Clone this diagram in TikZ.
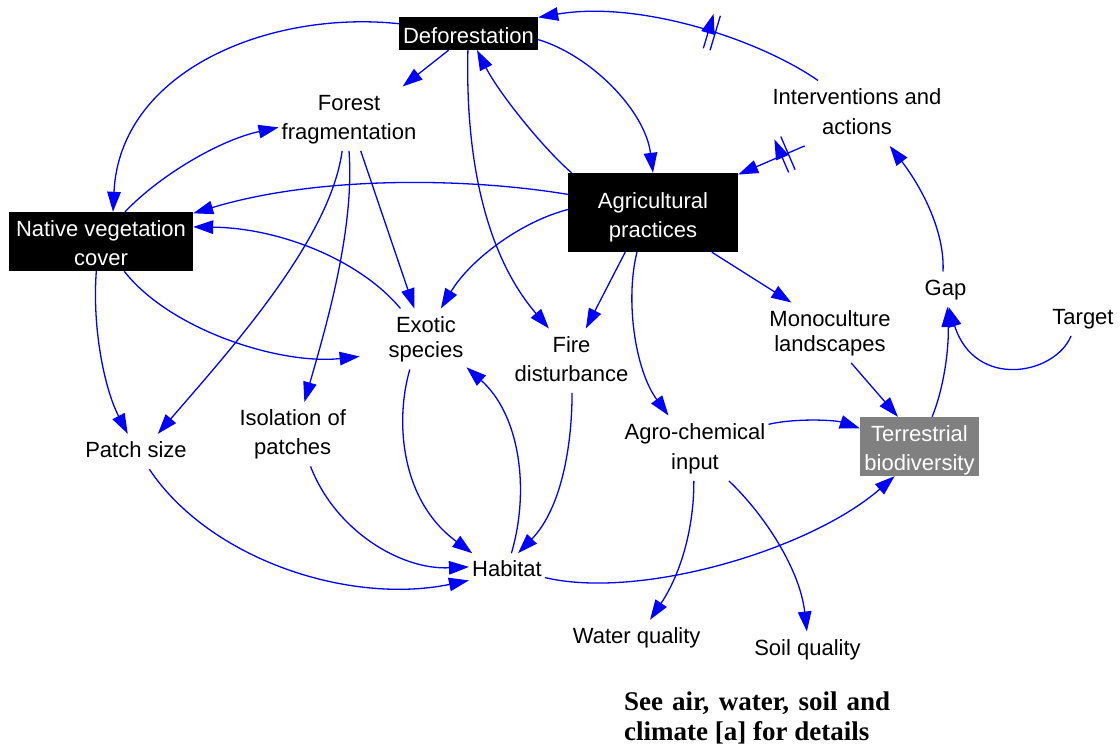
\documentclass[tikz,border=0pt]{standalone}
\usepackage{fontspec}
\setmainfont{Liberation Sans}
\newfontfamily\notefont{Liberation Serif}
\usetikzlibrary{arrows.meta,decorations.markings}

% one- and two-line labels whose baseline is the first line
\newcommand{\oneln}[1]{\begin{tabular}[t]{@{}c@{}}#1\end{tabular}}
\newcommand{\twoln}[3][0pt]{\begin{tabular}[t]{@{}c@{}}#2\\[#1]#3\end{tabular}}

\definecolor{linkblue}{RGB}{0,0,255}
\definecolor{stockgray}{RGB}{128,128,128}

\tikzset{
  var/.style={anchor=base, inner sep=3pt, font=\fontsize{22}{29}\selectfont, text=black},
  keyvar/.style={anchor=base, inner sep=0pt, fill=black, text=white,
    font=\fontsize{22}{29}\selectfont},
  link/.style={draw=linkblue, line width=1.3pt, -{Triangle[length=20pt,width=13.5pt]}},
  delaylink/.style={link, postaction={decorate},
    decoration={markings, mark=at position #1 with {
      \draw[linkblue, line width=1.3pt] (-3.5,-18)--(-3.5,18) (3.5,-18)--(3.5,18);}}},
}

\begin{document}
\begin{tikzpicture}[x=1pt, y=-1pt]
\useasboundingbox (0,0) rectangle (1120,745);

% key variables (filled boxes)
\node[keyvar, minimum width=139pt, text height=26pt, text depth=7pt] (dfr) at (468.5,43) {\oneln{Deforestation}};
\node[keyvar, minimum width=170pt, text height=35pt, text depth=44pt] (agr) at (653,208) {\twoln{Agricultural}{practices}};
\node[keyvar, minimum width=184pt, text height=24.7pt, text depth=34.3pt] (nvc) at (101,236.7) {\twoln{Native vegetation}{cover}};
\node[keyvar, fill=stockgray, minimum width=119pt, text height=24.7pt, text depth=34.3pt] (tb) at (919.5,441.7) {\twoln{Terrestrial}{biodiversity}};

% other variables
\node[var] (ff) at (349,110) {\twoln{Forest}{fragmentation}};
\node[var] (int) at (857,104) {\twoln[1pt]{Interventions and}{actions}};
\node[var] (exo) at (426,332) {\twoln[-3.5pt]{Exotic}{species}};
\node[var] (fire) at (571.5,352) {\twoln{Fire}{disturbance}};
\node[var] (mono) at (830,326) {\twoln[-4pt]{Monoculture}{landscapes}};
\node[var] (agro) at (695,439) {\twoln[1pt]{Agro-chemical}{input}};
\node[var] (iso) at (292.7,425.5) {\twoln{Isolation of}{patches}};
\node[var] (gap) at (945.5,295) {\oneln{Gap}};
\node[var] (tgt) at (1083,324) {\oneln{Target}};
\node[var] (ps) at (136,457.3) {\oneln{Patch size}};
\node[var] (hab) at (507,576.7) {\oneln{Habitat}};
\node[var] (wq) at (636.7,643.3) {\oneln{Water quality}};
\node[var] (sq) at (807.5,655) {\oneln{Soil quality}};

\node[anchor=base west, inner sep=0pt] (note) at (624,710)
  {\parbox[t]{266pt}{\notefont\bfseries\fontsize{27}{30}\selectfont
   See air, water, soil and\linebreak climate [a] for details}};

% causal links
\draw[link] (dfr.172) .. controls (270,10) and (120,70) .. (nvc.68);
\draw[link] (dfr.220) -- (ff.31);
\draw[link] (dfr.-5) .. controls (590,55) and (645,110) .. (agr.90);
\draw[link] (agr.154) .. controls (545,150) and (500,95) .. (dfr.-63);
\draw[link] (dfr.-92) .. controls (465,170) and (490,260) .. (fire.125);
\draw[delaylink=0.4] (int.140) .. controls (760,40) and (640,0) .. (dfr.13);
\draw[delaylink=0.3] (int.212) -- (agr.24);
\draw[link] (gap.98) .. controls (945,230) and (920,185) .. (int.-45);
\draw[link] (tb.67) .. controls (945,385) and (949,345) .. (gap.-84);
\draw[link] (tgt.236) .. controls (1055,375) and (975,390) .. (gap.-80);
\draw[link] (mono.-55) -- (tb.126);
\draw[link] (agro.18) .. controls (795,418) and (835,420) .. (tb.163);
\draw[link] (agr.-34) -- (mono.142);
\draw[link] (agr.248) .. controls (625,300) and (635,370) .. (agro.129);
\draw[link] (agr.235) -- (fire.66);
\draw[link] (agr.178) .. controls (520,222) and (470,260) .. (exo.64);
\draw[link] (agr.168) .. controls (470,178) and (320,175) .. (nvc.17);
\draw[link] (nvc.51) .. controls (160,175) and (220,140) .. (ff.187);
\draw[link] (exo.130) .. controls (360,260) and (280,228) .. (nvc.9);
\draw[link, shorten >=26pt] (nvc.-52) .. controls (170,330) and (280,365) .. (exo.200);
\draw[link] (nvc.-99) .. controls (92,330) and (105,390) .. (ps.115);
\draw[link] (ff.-102) .. controls (330,240) and (230,350) .. (ps.39);
\draw[link] (ff.-90) .. controls (355,230) and (325,330) .. (iso.70);
\draw[link] (ff.-70) -- (exo.111);
\draw[link] (exo.-118) .. controls (395,420) and (400,500) .. (hab.153);
\draw[link] (hab.76) .. controls (530,490) and (520,415) .. (exo.-35);
\draw[link] (fire.-89) .. controls (572,450) and (560,510) .. (hab.58);
\draw[link] (iso.-61) .. controls (335,530) and (400,570) .. (hab.174);
\draw[link] (ps.-53) .. controls (210,560) and (350,605) .. (hab.194);
\draw[link] (hab.-10) .. controls (640,600) and (810,550) .. (tb.-130);
\draw[link] (agro.-92) .. controls (694,530) and (680,575) .. (wq.53);
\draw[link] (agro.-44) .. controls (765,515) and (800,570) .. (sq.92);
\end{tikzpicture}
\end{document}
